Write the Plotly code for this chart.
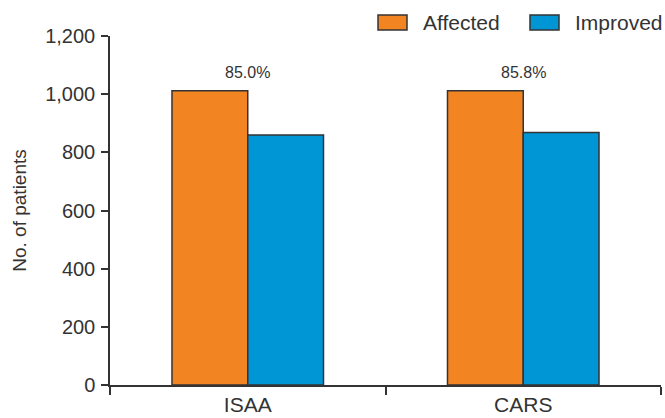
import plotly.graph_objects as go

categories = ["ISAA", "CARS"]
affected = [1012, 1012]
improved = [860, 868]
pct_labels = ["85.0%", "85.8%"]
series_names = ["Affected", "Improved"]
colors = ["#F28522", "#0096D6"]
y_ticks = [0, 200, 400, 600, 800, 1000, 1200]

W, H = 665, 418
ML, MR, MT, MB = 110, 4, 36, 33
PW, PH = W - ML - MR, H - MT - MB

def px_x(p):
    return (p - ML) / PW

def px_y(p):
    return (H - MB - p) / PH

fig = go.Figure()
for name, vals, col in zip(series_names, [affected, improved], colors):
    fig.add_trace(go.Bar(
        x=categories, y=vals, name=name, showlegend=False, hoverinfo="skip",
        marker=dict(color=col, line=dict(color="#333333", width=1.5)),
    ))

for c, v, t in zip(categories, affected, pct_labels):
    fig.add_annotation(x=c, y=v, text=t, showarrow=False, yanchor="bottom",
                       yshift=8, font=dict(size=16, color="#333333"))

# manual legend (reference pixel positions)
legend_items = [(378, 407, 423), (530, 559, 575)]
for (x0, x1, tx), name, col in zip(legend_items, series_names, colors):
    fig.add_shape(type="rect", xref="paper", yref="paper",
                  x0=px_x(x0), x1=px_x(x1), y0=px_y(30), y1=px_y(15),
                  fillcolor=col, line=dict(color="#333333", width=1.5))
    fig.add_annotation(xref="paper", yref="paper", x=px_x(tx - 2), y=px_y(22.5),
                       text=name, showarrow=False, xanchor="left", yanchor="middle",
                       font=dict(size=21, color="#333333"))

fig.update_layout(
    width=W, height=H,
    margin=dict(l=ML, r=MR, t=MT, b=MB, pad=0, autoexpand=False),
    paper_bgcolor="white", plot_bgcolor="white",
    barmode="group", bargap=0.45, bargroupgap=0,
    font=dict(family="Liberation Sans, Arial, sans-serif", color="#333333"),
)
fig.update_xaxes(
    showline=True, linecolor="#333333", linewidth=1.5, automargin=False,
    ticks="outside", tickson="boundaries", ticklen=8, tickcolor="#333333", tickwidth=1.5,
    tickfont=dict(size=21, color="#333333"), showgrid=False, ticklabelstandoff=0,
)
fig.update_yaxes(
    range=[0, 1200], tickvals=y_ticks, tickformat=",", automargin=False,
    showline=True, linecolor="#333333", linewidth=1.5,
    ticks="outside", ticklen=7, tickcolor="#333333", tickwidth=1.5,
    tickfont=dict(size=20, color="#333333"), showgrid=False, zeroline=False,
    ticklabelstandoff=2,
    title=dict(text="No. of patients", font=dict(size=19, color="#333333"), standoff=14),
)

fig.write_html("out.html", config={"displayModeBar": False},
               post_script="document.body.style.margin='0';document.body.style.overflow='hidden';")
